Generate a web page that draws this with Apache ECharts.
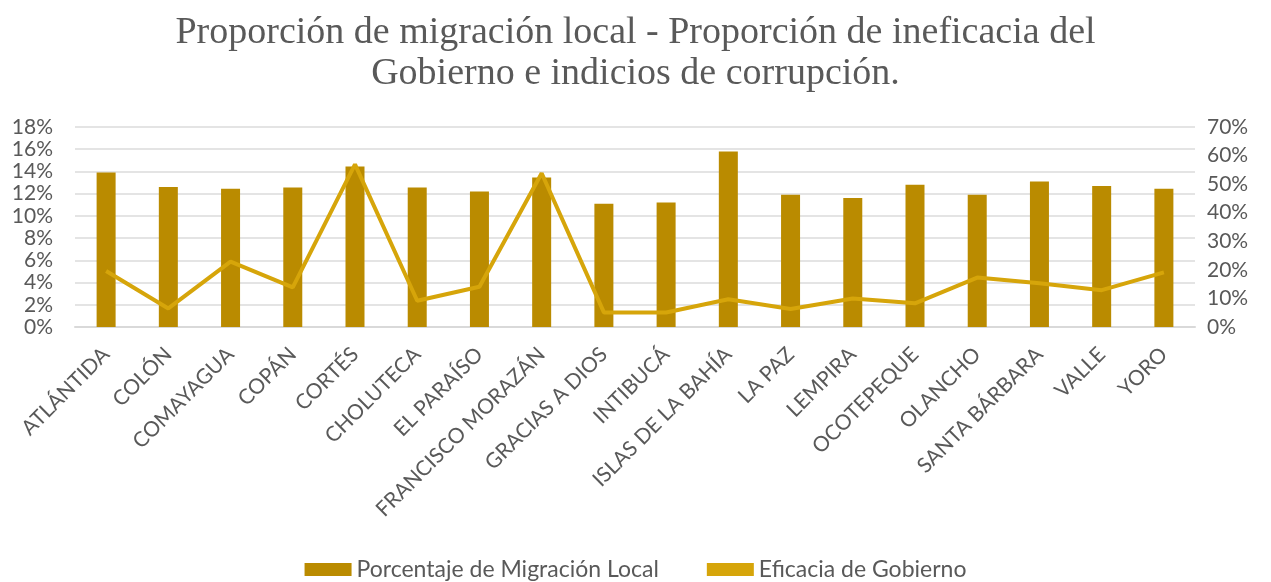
<!DOCTYPE html>
<html>
<head>
<meta charset="utf-8">
<script src="https://cdn.jsdelivr.net/npm/echarts@6/dist/echarts.min.js"></script>
<style>
    html, body { margin: 0; padding: 0; background: #fff; }
    #chart { width: 1271px; height: 582px; }
</style>
</head>
<body>
<div id="chart"></div>
<script>
    // departamentos
    var departamentos = ['ATLÁNTIDA', 'COLÓN', 'COMAYAGUA', 'COPÁN', 'CORTÉS', 'CHOLUTECA', 'EL PARAÍSO',
        'FRANCISCO MORAZÁN', 'GRACIAS A DIOS', 'INTIBUCÁ', 'ISLAS DE LA BAHÍA', 'LA PAZ', 'LEMPIRA',
        'OCOTEPEQUE', 'OLANCHO', 'SANTA BÁRBARA', 'VALLE', 'YORO'];
    // % migración local (eje izq.)
    var migracion = [13.9, 12.6, 12.45, 12.55, 14.45, 12.55, 12.2, 13.45, 11.1, 11.2, 15.8, 11.9, 11.6, 12.8, 11.9, 13.1, 12.7, 12.45];
    // % eficacia de gobierno (eje der.)
    var eficacia = [19.6, 6.5, 22.9, 13.9, 56.9, 9.2, 14.1, 53.8, 5.1, 5.1, 9.7, 6.3, 10.0, 8.3, 17.3, 15.3, 12.9, 19.1];

    var gris = '#595959';
    var fuente = 'Lato, "Open Sans", sans-serif';

    var chart = echarts.init(document.getElementById('chart'));
    var option = {
        animation: false,
        title: {
            text: 'Proporción de migración local - Proporción de ineficacia del\nGobierno e indicios de corrupción.',
            left: 'center',
            top: 8,
            textStyle: {
                fontFamily: '"Liberation Serif", "Times New Roman", serif',
                fontWeight: 'normal',
                fontSize: 38,
                lineHeight: 41,
                color: gris
            }
        },
        legend: {
            top: 553,
            left: 'center',
            itemGap: 48,
            textStyle: { fontFamily: fuente, fontSize: 23, color: gris },
            data: [
                { name: 'Porcentaje de Migración Local', icon: 'rect', itemWidth: 47, itemHeight: 13 },
                { name: 'Eficacia de Gobierno', icon: 'rect', itemWidth: 53, itemHeight: 4 }
            ],
            itemWidth: 47,
            itemHeight: 13
        },
        grid: {
            left: 75,
            right: 76,
            top: 127,
            bottom: 255
        },
        xAxis: {
            type: 'category',
            data: departamentos,
            axisTick: { show: false },
            axisLine: { lineStyle: { color: '#D9D9D9', width: 2 } },
            axisLabel: {
                rotate: 45,
                interval: 0,
                margin: 24,
                fontFamily: fuente,
                fontSize: 21,
                color: gris
            }
        },
        yAxis: [{
            type: 'value',
            min: 0,
            max: 18,
            interval: 2,
            axisLabel: { formatter: '{value}%', fontFamily: fuente, fontSize: 21, color: gris, margin: 22 },
            splitLine: { lineStyle: { color: '#E4E4E4', width: 2 } }
        }, {
            type: 'value',
            min: 0,
            max: 70,
            interval: 10,
            axisLabel: { formatter: '{value}%', fontFamily: fuente, fontSize: 21, color: gris, margin: 12 },
            splitLine: { show: false }
        }],
        series: [{
            name: 'Porcentaje de Migración Local',
            type: 'bar',
            barWidth: 19,
            itemStyle: { color: '#BA8B00' },
            data: migracion
        }, {
            name: 'Eficacia de Gobierno',
            type: 'line',
            yAxisIndex: 1,
            showSymbol: false,
            symbol: 'none',
            lineStyle: { color: '#D6A50A', width: 4 },
            itemStyle: { color: '#D6A50A' },
            data: eficacia
        }]
    };
    chart.setOption(option);
</script>
</body>
</html>
